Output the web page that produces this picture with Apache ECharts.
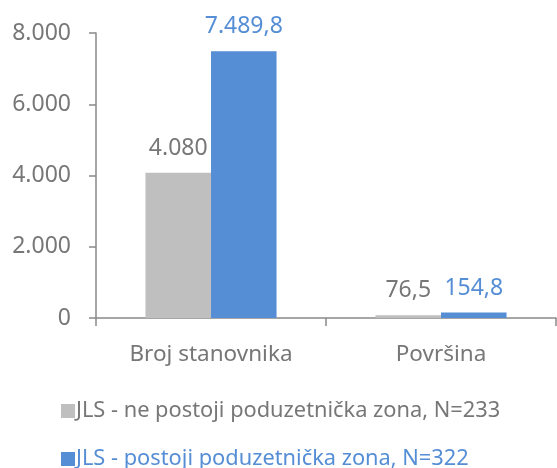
<!DOCTYPE html>
<html>
<head>
<meta charset="utf-8">
<script src="https://cdn.jsdelivr.net/npm/echarts@6/dist/echarts.min.js"></script>
<style>
  html, body { margin: 0; padding: 0; background: #fff; }
  #chart { width: 557px; height: 468px; }
</style>
</head>
<body>
<div id="chart"></div>
<script>
const categories = ['Broj stanovnika', 'Površina']
const seriesNames = [
  'JLS - ne postoji poduzetnička zona, N=233',
  'JLS - postoji poduzetnička zona, N=322'
]
const noZone = [4080, 76.5]
const withZone = [7489.8, 154.8]
const yTicks = [0, 2000, 4000, 6000, 8000]

const GRAY = '#bfbfbf'
const BLUE = '#558ed5'
const TEXT = '#777777'
const FONT = 'Noto Sans'

// 7489.8 -> "7.489,8"
function fmt(v) {
  const parts = String(v).split('.')
  const int = parts[0].replace(/\B(?=(\d{3})+(?!\d))/g, '.')
  return parts[1] ? int + ',' + parts[1] : int
}

// one legend per line, the reference stacks them
function legendLine(name, color, top) {
  return {
    left: 56,
    top: top,
    itemWidth: 14,
    itemHeight: 14,
    icon: 'rect',
    textStyle: { fontSize: 21.8, fontFamily: FONT, color: color, padding: [0, 0, 0, -4] },
    data: [name]
  }
}

const chart = echarts.init(document.getElementById('chart'))
chart.setOption({
  animation: false,
  textStyle: { fontFamily: FONT },
  grid: { left: 96, right: 1, top: 33, bottom: 150 },
  legend: [
    legendLine(seriesNames[0], TEXT, 395),
    legendLine(seriesNames[1], BLUE, 443)
  ],
  xAxis: {
    type: 'category',
    data: categories,
    axisLine: { lineStyle: { color: '#898989', width: 1.5 } },
    axisTick: { show: true, length: 8, lineStyle: { color: '#898989', width: 1.5 } },
    axisLabel: { color: TEXT, fontSize: 22.5, margin: 25 }
  },
  yAxis: {
    type: 'value',
    min: yTicks[0],
    max: yTicks[yTicks.length - 1],
    interval: 2000,
    splitLine: { show: false },
    axisLine: { show: true, lineStyle: { color: '#898989', width: 1.5 } },
    axisTick: { show: true, length: 7, lineStyle: { color: '#898989', width: 1.5 } },
    axisLabel: { color: TEXT, fontSize: 23, margin: 25, formatter: fmt }
  },
  series: [
    {
      name: seriesNames[0],
      type: 'bar',
      data: noZone,
      barGap: '0%',
      barCategoryGap: '43%',
      itemStyle: { color: GRAY },
      label: { show: true, position: 'top', distance: 13, color: TEXT, fontSize: 23, formatter: p => fmt(p.value) }
    },
    {
      name: seriesNames[1],
      type: 'bar',
      data: withZone,
      barGap: '0%',
      barCategoryGap: '43%',
      itemStyle: { color: BLUE },
      label: { show: true, position: 'top', distance: 13, color: BLUE, fontSize: 23, formatter: p => fmt(p.value) }
    }
  ]
})
</script>
</body>
</html>
